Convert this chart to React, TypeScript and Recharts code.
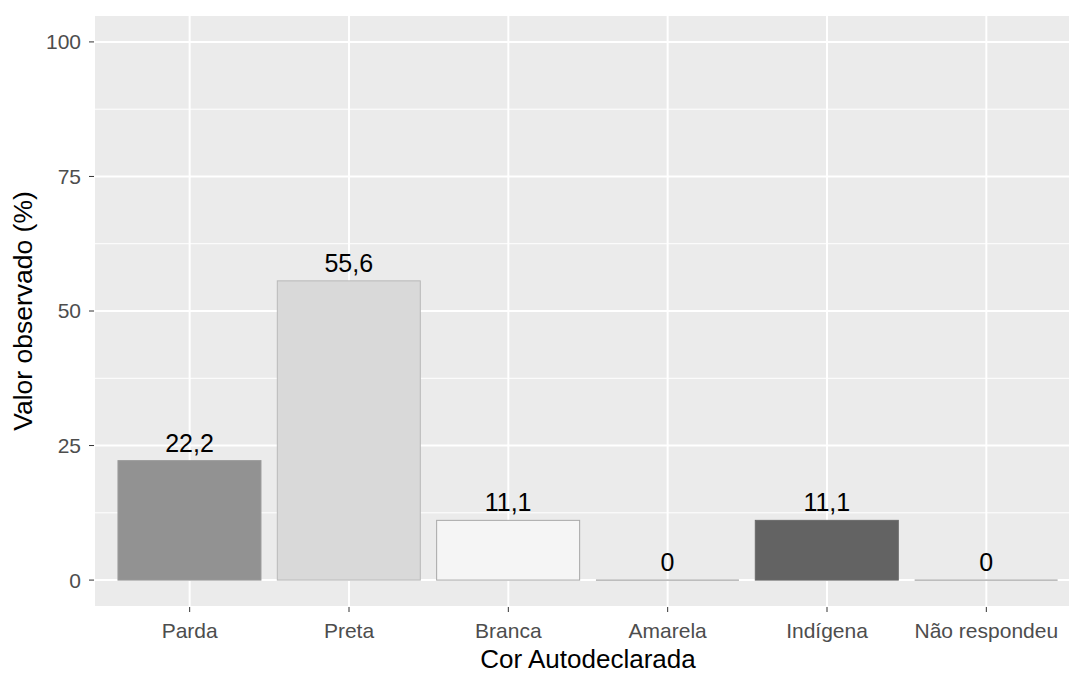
import {
  BarChart,
  Bar,
  XAxis,
  YAxis,
  CartesianGrid,
  Cell,
  LabelList,
  Label,
} from "recharts";

const categories = ["Parda", "Preta", "Branca", "Amarela", "Indígena", "Não respondeu"];
const values = [22.2, 55.6, 11.1, 0, 11.1, 0];
const yTicks = [0, 25, 50, 75, 100];
const minorTicks = [12.5, 37.5, 62.5, 87.5];

const fills = ["#929292", "#D9D9D9", "#F5F5F5", "#BDBDBD", "#636363", "#BDBDBD"];
const strokes = ["#9A9A9A", "#B8B8B8", "#A8A8A8", "#8E8E8E", "#6A6A6A", "#8E8E8E"];

const FONT = "'Liberation Sans', Arial, sans-serif";

const data = categories.map((cat, i) => ({ cat, valor: values[i] }));

// draws zero-height bars as a flat line like ggplot does
const BarShape = (props: any) => {
  const { x, y, width, height, fill, stroke } = props;
  if (!height) {
    return <line x1={x} x2={x + width} y1={y} y2={y} stroke={stroke} strokeWidth={1} />;
  }
  return (
    <rect x={x} y={y} width={width} height={height} fill={fill} stroke={stroke} strokeWidth={1} />
  );
};

export default function App() {
  return (
    <div
      style={{
        position: "absolute",
        left: 0,
        top: 0,
        width: 1069,
        height: 673,
        overflow: "hidden",
        background: "#fff",
      }}
    >
      <BarChart
        width={1090}
        height={673}
        data={data}
        margin={{ top: 15, right: 8, bottom: 0, left: 0 }}
        barCategoryGap="5%"
      >
        <CartesianGrid fill="#EBEBEB" stroke="#fff" strokeWidth={2} />
        <CartesianGrid
          vertical={false}
          horizontalValues={minorTicks}
          stroke="#fff"
          strokeWidth={1}
        />
        <XAxis
          dataKey="cat"
          height={66}
          padding={{ left: 16, right: 16 }}
          axisLine={false}
          tickSize={5}
          tickMargin={11}
          tickLine={{ stroke: "#333" }}
          tick={{ fill: "#4D4D4D", fontSize: 21, fontFamily: FONT }}
          interval={0}
        >
          <Label
            value="Cor Autodeclarada"
            position="insideBottom"
            offset={5}
            style={{ fill: "#000", fontSize: 26, fontFamily: FONT }}
          />
        </XAxis>
        <YAxis
          width={94}
          domain={[-5, 105]}
          ticks={yTicks}
          allowDataOverflow
          axisLine={false}
          tickSize={5}
          tickMargin={8}
          tickLine={{ stroke: "#333" }}
          tick={{ fill: "#4D4D4D", fontSize: 21, fontFamily: FONT }}
        >
          <Label
            content={({ viewBox }: any) => {
              const cx = 23;
              const cy = viewBox.y + viewBox.height / 2;
              return (
                <text
                  x={cx}
                  y={cy}
                  transform={`rotate(-90 ${cx} ${cy})`}
                  textAnchor="middle"
                  dominantBaseline="central"
                  fill="#000"
                  fontSize={26.5}
                  fontFamily={FONT}
                >
                  Valor observado (%)
                </text>
              );
            }}
          />
        </YAxis>
        <Bar dataKey="valor" isAnimationActive={false} shape={<BarShape />}>
          {data.map((d, i) => (
            <Cell key={d.cat} fill={fills[i]} stroke={strokes[i]} />
          ))}
          <LabelList
            dataKey="valor"
            position="top"
            offset={9}
            formatter={(v: any) => String(v).replace(".", ",")}
            style={{ fill: "#000", fontSize: 25, fontFamily: FONT }}
          />
        </Bar>
      </BarChart>
    </div>
  );
}
